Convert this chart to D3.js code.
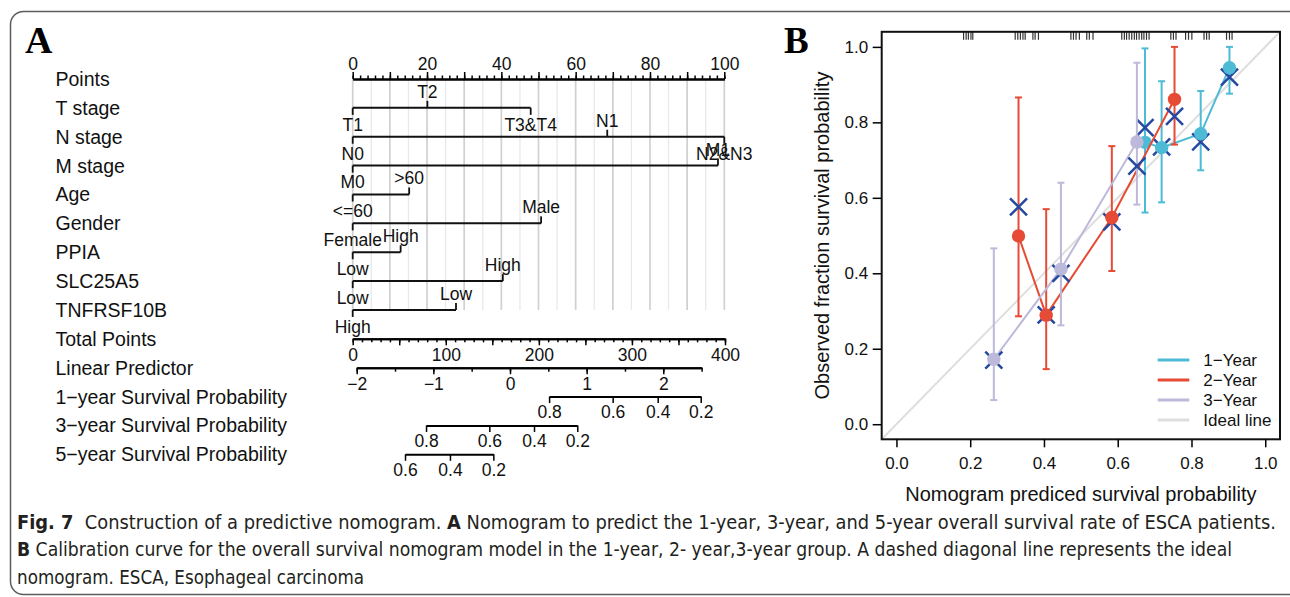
<!DOCTYPE html>
<html>
<head>
<meta charset="utf-8">
<script src="https://cdn.jsdelivr.net/npm/d3@7"></script>
<style>
  body { margin: 0; background: #fff; }
  svg { display: block; }
</style>
</head>
<body>
<svg id="fig" width="1290" height="597"></svg>
<script>
// ---------------- Nomogram (panel A) ----------------
const rowNames = ["Points", "T stage", "N stage", "M stage", "Age", "Gender", "PPIA", "SLC25A5", "TNFRSF10B",
  "Total Points", "Linear Predictor", "1\u2212year Survival Probability", "3\u2212year Survival Probability", "5\u2212year Survival Probability"];

const predictorLevels = [
  ["T1", "T2", "T3&T4"],
  ["N0", "N1", "N2&N3"],
  ["M0", "M1"],
  ["<=60", ">60"],
  ["Female", "Male"],
  ["Low", "High"],
  ["Low", "High"],
  ["High", "Low"]
];
// points (0-100 scale) assigned to each level
const predictorPoints = [
  [0, 20.1, 47.9],
  [0, 68.5, 100],
  [0, 98.3],
  [0, 15.2],
  [0, 50.7],
  [0, 12.9],
  [0, 40.4],
  [0, 27.8]
];

const pointsLabelTicks = [0, 20, 40, 60, 80, 100];
const totalLabelTicks = [0, 100, 200, 300, 400];
const lpLabelTicks = [-2, -1, 0, 1, 2];
const lpExtent = [-2, 2.5];
const lpZeroPoints = 169;     // total points at linear predictor 0
const pointsPerLP = 82.35;    // total points per unit of linear predictor

const survLabels1 = [0.8, 0.6, 0.4, 0.2];
const survPoints1 = [211, 279.3, 327.7, 373.9];
const survLabels3 = [0.8, 0.6, 0.4, 0.2];
const survPoints3 = [78.8, 146.8, 194.8, 241.3];
const survLabels5 = [0.6, 0.4, 0.2];
const survPoints5 = [56.2, 104.5, 151.1];

// ---------------- Calibration (panel B) ----------------
const seriesNames = ["1\u2212Year", "2\u2212Year", "3\u2212Year"];

const oneYearPred = [0.674, 0.719, 0.825, 0.903];
const oneYearObs = [0.747, 0.733, 0.770, 0.945];
const oneYearLow = [0.561, 0.588, 0.673, 0.876];
const oneYearHigh = [0.996, 0.909, 0.883, 1.0];
const oneYearCorrected = [0.786, 0.735, 0.748, 0.920];

const twoYearPred = [0.331, 0.406, 0.584, 0.754];
const twoYearObs = [0.499, 0.289, 0.548, 0.861];
const twoYearLow = [0.286, 0.146, 0.406, 0.741];
const twoYearHigh = [0.866, 0.570, 0.737, 1.0];
const twoYearCorrected = [0.576, 0.290, 0.536, 0.816];

const threeYearPred = [0.264, 0.446, 0.652];
const threeYearObs = [0.172, 0.411, 0.748];
const threeYearLow = [0.064, 0.262, 0.582];
const threeYearHigh = [0.466, 0.640, 0.958];
const threeYearCorrected = [0.170, 0.400, 0.684];

// distribution of predicted probabilities (rug along the top)
const rugValues = [
  0.182, 0.189, 0.195, 0.202, 0.207,
  0.322, 0.329, 0.336, 0.343, 0.349,
  0.370, 0.376, 0.385,
  0.473, 0.480, 0.487, 0.496,
  0.516, 0.523, 0.533,
  0.611, 0.618, 0.624, 0.631, 0.638, 0.645, 0.651, 0.658, 0.665, 0.671, 0.678, 0.685,
  0.744, 0.751, 0.758,
  0.784, 0.792, 0.801,
  0.834, 0.841, 0.848,
  0.895, 0.903, 0.910
];
const calTicks = [0, 0.2, 0.4, 0.6, 0.8, 1.0];

// ---------------- drawing ----------------
const sans = "'Liberation Sans', Arial, Helvetica, sans-serif";
const serif = "'Liberation Serif', 'Times New Roman', serif";
const svg = d3.select("#fig");

// figure frame
svg.append("rect")
  .attr("x", 10.5).attr("y", 11.5).attr("width", 1320).attr("height", 583).attr("rx", 13)
  .attr("fill", "none").attr("stroke", "#5c5c5c").attr("stroke-width", 1.5);

svg.append("text").attr("x", 25).attr("y", 53).text("A")
  .attr("font-family", serif).attr("font-weight", "bold").attr("font-size", 38);
svg.append("text").attr("x", 784).attr("y", 53).text("B")
  .attr("font-family", serif).attr("font-weight", "bold").attr("font-size", 37);

// ---- panel A ----
const gA = svg.append("g").attr("font-family", sans);
const rowY = d3.scaleLinear().domain([0, rowNames.length - 1]).range([79, 454.3]);
const ptsX = d3.scaleLinear().domain([0, 100]).range([352.7, 724.3]);
const totX = d3.scaleLinear().domain([0, 400]).range([352.7, 725]);
const tickFs = 17.5;

// vertical reference grid across predictor rows
const gridVals = d3.range(0, 100.01, 5);
gA.append("g").selectAll("line").data(gridVals).join("line")
  .attr("x1", d => ptsX(d)).attr("x2", d => ptsX(d))
  .attr("y1", rowY(0)).attr("y2", rowY(predictorLevels.length))
  .attr("stroke", d => d % 10 === 0 ? "#d0d0d0" : "#e9e9e9")
  .attr("stroke-width", d => d % 10 === 0 ? 1.7 : 1.3);

// row titles
gA.append("g").selectAll("text").data(rowNames).join("text")
  .attr("x", 55.5).attr("y", (d, i) => rowY(i) + 7)
  .attr("font-size", 19.5).attr("fill", "#111")
  .text(d => d);

function styleAxis(g, fs) {
  g.attr("font-family", sans).attr("font-size", fs);
  g.select(".domain").attr("stroke-width", 2);
  g.selectAll(".tick line").attr("stroke-width", 1.5);
  g.selectAll(".tick text").attr("fill", "#111");
}

// Points axis (ticks upward, labels above)
const gPts = gA.append("g").attr("transform", `translate(0,${rowY(0)})`);
gPts.append("g").call(d3.axisTop(ptsX).tickValues(d3.range(0, 100.01, 2)).tickSize(3.5).tickSizeOuter(0).tickFormat(""))
  .call(g => styleAxis(g, tickFs));
gPts.append("g").call(d3.axisTop(ptsX).tickValues(d3.range(0, 100.01, 10)).tickSize(7).tickSizeOuter(0).tickPadding(2)
  .tickFormat(d => pointsLabelTicks.includes(d) ? d : ""))
  .call(g => styleAxis(g, tickFs));

// predictor axes
predictorLevels.forEach((levels, r) => {
  const y = rowY(r + 1);
  const pts = predictorPoints[r];
  const g = gA.append("g");
  g.append("line")
    .attr("x1", ptsX(d3.min(pts))).attr("x2", ptsX(d3.max(pts)))
    .attr("y1", y).attr("y2", y).attr("stroke", "#111").attr("stroke-width", 2);
  const items = levels.map((lab, i) => ({ lab, p: pts[i], up: i % 2 === 1 }));
  g.selectAll("line.tk").data(items).join("line").attr("class", "tk")
    .attr("x1", d => ptsX(d.p)).attr("x2", d => ptsX(d.p))
    .attr("y1", y).attr("y2", d => d.up ? y - 7 : y + 7)
    .attr("stroke", "#111").attr("stroke-width", 1.8);
  g.selectAll("text").data(items).join("text")
    .attr("x", d => ptsX(d.p)).attr("y", d => d.up ? y - 10 : y + 22.8)
    .attr("text-anchor", "middle").attr("font-size", tickFs).attr("fill", "#111")
    .text(d => d.lab);
});

// Total points axis
const rTot = predictorLevels.length + 1;
const gTot = gA.append("g").attr("transform", `translate(0,${rowY(rTot)})`);
gTot.append("g").call(d3.axisBottom(totX).tickValues(d3.range(0, 400.01, 10)).tickSize(3.5).tickSizeOuter(0).tickFormat(""))
  .call(g => styleAxis(g, tickFs));
gTot.append("g").call(d3.axisBottom(totX).tickValues(d3.range(0, 400.01, 50)).tickSize(6.5).tickSizeOuter(0).tickPadding(3)
  .tickFormat(d => totalLabelTicks.includes(d) ? d : ""))
  .call(g => styleAxis(g, tickFs));

// Linear predictor axis, placed on the total points scale
const lpToPoints = lp => lpZeroPoints + pointsPerLP * lp;
const lpX = d3.scaleLinear().domain(lpExtent).range(lpExtent.map(v => totX(lpToPoints(v))));
const gLp = gA.append("g").attr("transform", `translate(0,${rowY(rTot + 1)})`);
gLp.append("g").call(d3.axisBottom(lpX).tickValues(d3.range(lpExtent[0], lpExtent[1] + 0.01, 0.5)).tickSize(4).tickSizeOuter(0).tickFormat(""))
  .call(g => styleAxis(g, tickFs));
gLp.append("g").call(d3.axisBottom(lpX).tickValues(lpLabelTicks).tickSize(6.5).tickSizeOuter(0).tickPadding(3)
  .tickFormat(d3.format("d")))
  .call(g => styleAxis(g, tickFs));

// survival probability axes
[[survPoints1, survLabels1], [survPoints3, survLabels3], [survPoints5, survLabels5]].forEach(([pts, labs], k) => {
  const ext = d3.extent(pts);
  const sx = d3.scaleLinear().domain(ext).range(ext.map(totX));
  gA.append("g").attr("transform", `translate(0,${rowY(rTot + 2 + k)})`)
    .call(d3.axisBottom(sx).tickValues(pts).tickSize(6.5).tickSizeOuter(0).tickPadding(3)
      .tickFormat((d, i) => d3.format(".1f")(labs[i])))
    .call(g => styleAxis(g, tickFs));
});

// ---- panel B ----
const gB = svg.append("g").attr("font-family", sans);
const bx = d3.scaleLinear().domain([-0.04, 1.04]).range([881.7, 1280]);
const by = d3.scaleLinear().domain([-0.04, 1.04]).range([439.3, 31.8]);
const colors = ["#4DBBD5", "#E64B35", "#BDB9DB"];
const idealColor = "#dedede";
const crossColor = "#2549A0";

// ideal diagonal
gB.append("line")
  .attr("x1", bx(-0.04)).attr("y1", by(-0.04)).attr("x2", bx(1.04)).attr("y2", by(1.04))
  .attr("stroke", idealColor).attr("stroke-width", 2);

// rug of predicted values
gB.append("g").selectAll("line").data(rugValues).join("line")
  .attr("x1", d => bx(d)).attr("x2", d => bx(d))
  .attr("y1", by(1.04)).attr("y2", by(1.04) + 8)
  .attr("stroke", "#333").attr("stroke-width", 1.2);

const series = [
  { pred: oneYearPred, obs: oneYearObs, lo: oneYearLow, hi: oneYearHigh, cor: oneYearCorrected },
  { pred: twoYearPred, obs: twoYearObs, lo: twoYearLow, hi: twoYearHigh, cor: twoYearCorrected },
  { pred: threeYearPred, obs: threeYearObs, lo: threeYearLow, hi: threeYearHigh, cor: threeYearCorrected }
];

series.forEach((s, k) => {
  const c = colors[k];
  const g = gB.append("g");
  const idx = d3.range(s.pred.length);
  // error bars
  g.selectAll("line.bar").data(idx).join("line").attr("class", "bar")
    .attr("x1", i => bx(s.pred[i])).attr("x2", i => bx(s.pred[i]))
    .attr("y1", i => by(s.lo[i])).attr("y2", i => by(s.hi[i]))
    .attr("stroke", c).attr("stroke-width", 2);
  ["lo", "hi"].forEach(key => {
    g.selectAll("line.cap-" + key).data(idx).join("line").attr("class", "cap-" + key)
      .attr("x1", i => bx(s.pred[i]) - 3.5).attr("x2", i => bx(s.pred[i]) + 3.5)
      .attr("y1", i => by(s[key][i])).attr("y2", i => by(s[key][i]))
      .attr("stroke", c).attr("stroke-width", 2);
  });
  // observed line
  g.append("path").datum(idx)
    .attr("d", d3.line().x(i => bx(s.pred[i])).y(i => by(s.obs[i])))
    .attr("fill", "none").attr("stroke", c).attr("stroke-width", 2);
  // bias-corrected estimates
  g.selectAll("path.x").data(idx).join("path").attr("class", "x")
    .attr("d", i => {
      const x = bx(s.pred[i]), y = by(s.cor[i]), h = 8.5;
      return `M${x - h},${y - h}L${x + h},${y + h}M${x - h},${y + h}L${x + h},${y - h}`;
    })
    .attr("stroke", crossColor).attr("stroke-width", 2.5).attr("fill", "none");
  // observed points
  g.selectAll("circle").data(idx).join("circle")
    .attr("cx", i => bx(s.pred[i])).attr("cy", i => by(s.obs[i])).attr("r", 6.7)
    .attr("fill", c);
});

// frame
gB.append("rect")
  .attr("x", bx(-0.04)).attr("y", by(1.04))
  .attr("width", bx(1.04) - bx(-0.04)).attr("height", by(-0.04) - by(1.04))
  .attr("fill", "none").attr("stroke", "#111").attr("stroke-width", 2);

// axes
const fmt1 = d3.format(".1f");
gB.append("g").attr("transform", `translate(${bx(-0.04)},0)`)
  .call(d3.axisLeft(by).tickValues(calTicks).tickSize(9).tickSizeOuter(0).tickPadding(4.5).tickFormat(fmt1))
  .call(g => { g.select(".domain").remove(); styleAxis(g, 17); });
gB.append("g").attr("transform", `translate(0,${by(-0.04)})`)
  .call(d3.axisBottom(bx).tickValues(calTicks).tickSize(8).tickSizeOuter(0).tickPadding(10).tickFormat(fmt1))
  .call(g => { g.select(".domain").remove(); styleAxis(g, 17); });

gB.append("text")
  .attr("transform", `translate(822,${(by(0) + by(1)) / 2}) rotate(-90)`)
  .attr("text-anchor", "middle").attr("dy", "0.35em")
  .attr("font-size", 20).attr("fill", "#111")
  .text("Observed fraction survival probability");
gB.append("text")
  .attr("x", (bx(0) + bx(1)) / 2).attr("y", 500.5)
  .attr("text-anchor", "middle").attr("font-size", 20).attr("fill", "#111")
  .text("Nomogram prediced survival probability");

// legend
const legendItems = seriesNames.map((n, i) => ({ n, c: colors[i] })).concat([{ n: "Ideal line", c: idealColor }]);
const gLeg = gB.append("g").attr("transform", "translate(1157.7,360)");
gLeg.selectAll("line").data(legendItems).join("line")
  .attr("x1", 0).attr("x2", 31.6).attr("y1", (d, i) => i * 20).attr("y2", (d, i) => i * 20)
  .attr("stroke", d => d.c).attr("stroke-width", 3);
gLeg.selectAll("text").data(legendItems).join("text")
  .attr("x", 45.6).attr("y", (d, i) => i * 20).attr("dy", "0.36em")
  .attr("font-size", 17).attr("fill", "#111")
  .text(d => d.n);

// ---- caption ----
const capFont = "'Liberation Sans Narrow', 'DejaVu Sans Condensed', 'Roboto Condensed', Arial, sans-serif";
const captionLines = [
  { parts: [["Fig. 7", true], ["  Construction of a predictive nomogram. ", false], ["A", true],
    [" Nomogram to predict the 1-year, 3-year, and 5-year overall survival rate of ESCA patients.", false]], width: 1259 },
  { parts: [["B", true], [" Calibration curve for the overall survival nomogram model in the 1-year, 2- year,3-year group. A dashed diagonal line represents the ideal", false]], width: 1215 },
  { parts: [["nomogram. ESCA, Esophageal carcinoma", false]], width: 347 }
];
const gCap = svg.append("g").attr("font-family", capFont).attr("font-size", 19).attr("fill", "#231f20");
captionLines.forEach((ln, i) => {
  const t = gCap.append("text")
    .attr("x", 17).attr("y", 528.5 + i * 27.5)
    .attr("textLength", ln.width).attr("lengthAdjust", "spacingAndGlyphs")
    .style("white-space", "pre");
  ln.parts.forEach(([txt, bold]) => {
    t.append("tspan").attr("font-weight", bold ? "bold" : "normal").text(txt);
  });
});
</script>
</body>
</html>
